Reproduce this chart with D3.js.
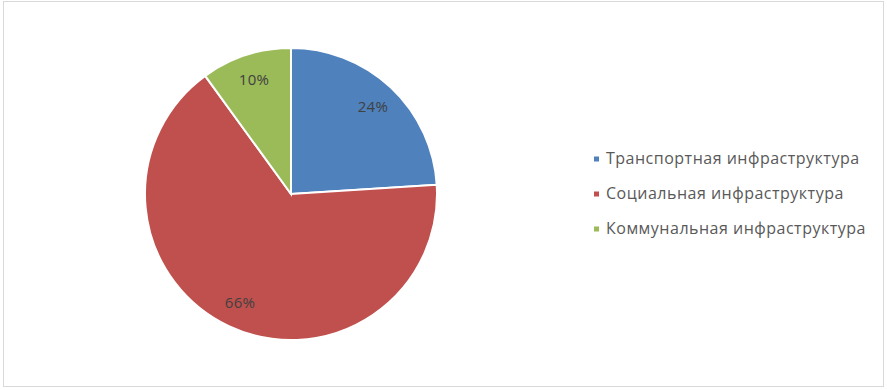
<!DOCTYPE html>
<html>
<head>
<meta charset="utf-8">
<title>pie</title>
<script src="https://cdn.jsdelivr.net/npm/d3@7"></script>
<style>
  body{margin:0;background:#fff;}
  text{font-family:"Open Sans",sans-serif;}
</style>
</head>
<body>
<div id="container"></div>
<script>
var categories = ["Транспортная инфраструктура", "Социальная инфраструктура", "Коммунальная инфраструктура"];
var values = [24, 66, 10];
var labels = ["24%", "66%", "10%"];
var colors = ["#4f81bd", "#c0504d", "#9bbb59"];

var width = 887, height = 390;
var cx = 291, cy = 194, radius = 146;

var svg = d3.select("#container").append("svg")
  .attr("width", width)
  .attr("height", height);

// faint frame
svg.append("rect")
  .attr("x", 3.5).attr("y", 1.5)
  .attr("width", 880).attr("height", 385)
  .attr("fill", "none")
  .attr("stroke", "#d9d9d9")
  .attr("stroke-width", 1);

var pie = d3.pie().sort(null).value(function(d){ return d; });
var arc = d3.arc().innerRadius(0).outerRadius(radius);
var labelArc = d3.arc().innerRadius(radius*0.82).outerRadius(radius*0.82);

var g = svg.append("g").attr("transform", "translate(" + cx + "," + cy + ")");

var arcs = pie(values);

g.selectAll("path.slice")
  .data(arcs)
  .enter().append("path")
  .attr("class", "slice")
  .attr("d", arc)
  .attr("fill", function(d, i){ return colors[i]; })
  .attr("stroke", "#fff")
  .attr("stroke-width", 2);

g.selectAll("text.lbl")
  .data(arcs)
  .enter().append("text")
  .attr("class", "lbl")
  .attr("transform", function(d){ return "translate(" + labelArc.centroid(d) + ")"; })
  .attr("text-anchor", "middle")
  .attr("dy", "0.35em")
  .attr("font-size", 15)
  .attr("letter-spacing", 0.3)
  .attr("fill", "#404040")
  .text(function(d, i){ return labels[i]; });

// legend
var legend = svg.append("g").attr("transform", "translate(594,159)");
var row = legend.selectAll("g.row")
  .data(categories)
  .enter().append("g")
  .attr("class", "row")
  .attr("transform", function(d, i){ return "translate(0," + (i*35) + ")"; });

row.append("rect")
  .attr("x", 0).attr("y", -2.5)
  .attr("width", 5).attr("height", 5)
  .attr("fill", function(d, i){ return colors[i]; });

row.append("text")
  .attr("x", 12)
  .attr("dy", "0.32em")
  .attr("font-size", 16)
  .attr("letter-spacing", 0.5)
  .attr("fill", "#595959")
  .text(function(d){ return d; });
</script>
</body>
</html>
